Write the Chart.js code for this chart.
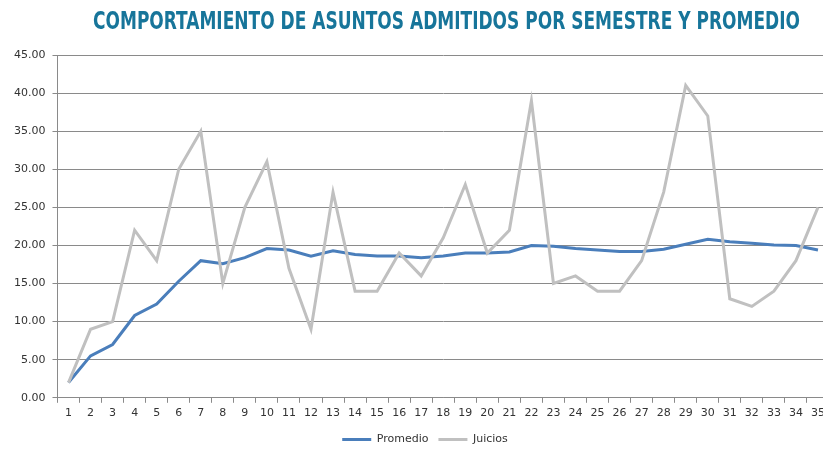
<!DOCTYPE html>
<html>
<head>
<meta charset="utf-8">
<script src="https://cdn.jsdelivr.net/npm/chart.js@4/dist/chart.umd.min.js"></script>
<style>
  html, body { margin: 0; padding: 0; background: #fff; overflow: hidden; }
  #wrap { position: relative; width: 850px; height: 449px; }
</style>
</head>
<body>
<div id="wrap"><canvas id="chart"></canvas></div>
<script>
// --- data ---
const chartTitle = 'COMPORTAMIENTO DE ASUNTOS ADMITIDOS POR SEMESTRE Y PROMEDIO';
const semestres = ['1','2','3','4','5','6','7','8','9','10','11','12','13','14','15','16','17','18',
  '19','20','21','22','23','24','25','26','27','28','29','30','31','32','33','34','35'];
const promedio = [2.0, 5.5, 7.0, 10.8, 12.3, 15.3, 18.0, 17.6, 18.4, 19.6, 19.4, 18.6, 19.3, 18.8,
  18.6, 18.6, 18.4, 18.6, 19.0, 19.0, 19.15, 20.0, 19.9, 19.6, 19.4, 19.2, 19.2, 19.5, 20.15, 20.8,
  20.5, 20.3, 20.05, 20.0, 19.4];
const juicios = [2, 9, 10, 22, 18, 30, 35, 15, 25, 31, 17, 9, 27, 14, 14, 19, 16, 21, 28, 19, 22, 39,
  15, 16, 14, 14, 18, 27, 41, 37, 13, 12, 14, 18, 25];

const axisColor = '#8a8a8a';
const textColor = '#333333';
const tickFont = { family: '"DejaVu Sans", Verdana, sans-serif', size: 11 };

// title drawn at the reference's position (the chart is cropped on the right)
const titlePlugin = {
  id: 'refTitle',
  afterLayout(chart) {
    // legend in the reference sits a bit right of the canvas centre
    if (chart.legend) {
      chart.legend.left += 7;
      chart.legend.right += 7;
    }
  },
  afterDraw(chart) {
    const ctx = chart.ctx;
    ctx.save();
    ctx.font = 'bold 25px "Liberation Sans Narrow", "DejaVu Sans Condensed", sans-serif';
    ctx.fillStyle = '#17759a';
    ctx.textBaseline = 'alphabetic';
    ctx.textAlign = 'center';
    const w = ctx.measureText(chartTitle).width;
    const targetW = 707;
    ctx.translate(446.5, 29);
    ctx.scale(targetW / w, 1);
    ctx.fillText(chartTitle, 0, 0);
    ctx.restore();
  }
};

new Chart(document.getElementById('chart'), {
  type: 'line',
  data: {
    labels: semestres,
    datasets: [
      {
        label: 'Promedio',
        data: promedio,
        borderColor: '#4a7ebb',
        backgroundColor: '#4a7ebb',
        borderWidth: 3,
        pointRadius: 0,
        tension: 0,
        order: 1
      },
      {
        label: 'Juicios',
        data: juicios,
        borderColor: '#c0c0c0',
        backgroundColor: '#c0c0c0',
        borderWidth: 3,
        pointRadius: 0,
        tension: 0,
        order: 0
      }
    ]
  },
  options: {
    responsive: true,
    maintainAspectRatio: false,
    animation: false,
    layout: { padding: { left: 7, right: 21, top: 55, bottom: -6 } },
    plugins: {
      title: { display: false },
      tooltip: { enabled: false },
      legend: {
        position: 'bottom',
        labels: {
          usePointStyle: true,
          pointStyle: 'line',
          pointStyleWidth: 29,
          padding: 10,
          color: textColor,
          font: { family: '"DejaVu Sans", Verdana, sans-serif', size: 11 },
          sort: (a, b) => a.datasetIndex - b.datasetIndex
        }
      }
    },
    scales: {
      x: {
        offset: true,
        grid: { offset: true, drawOnChartArea: false, drawTicks: true, tickLength: 5, color: axisColor },
        border: { color: axisColor },
        ticks: { autoSkip: false, maxRotation: 0, color: textColor, font: tickFont, padding: 4 }
      },
      y: {
        min: 0,
        max: 45,
        grid: { color: axisColor, tickLength: 5 },
        border: { color: axisColor },
        ticks: {
          stepSize: 5,
          color: textColor,
          font: tickFont,
          padding: 7,
          callback: v => v.toFixed(2)
        }
      }
    }
  },
  plugins: [titlePlugin]
});
</script>
</body>
</html>
